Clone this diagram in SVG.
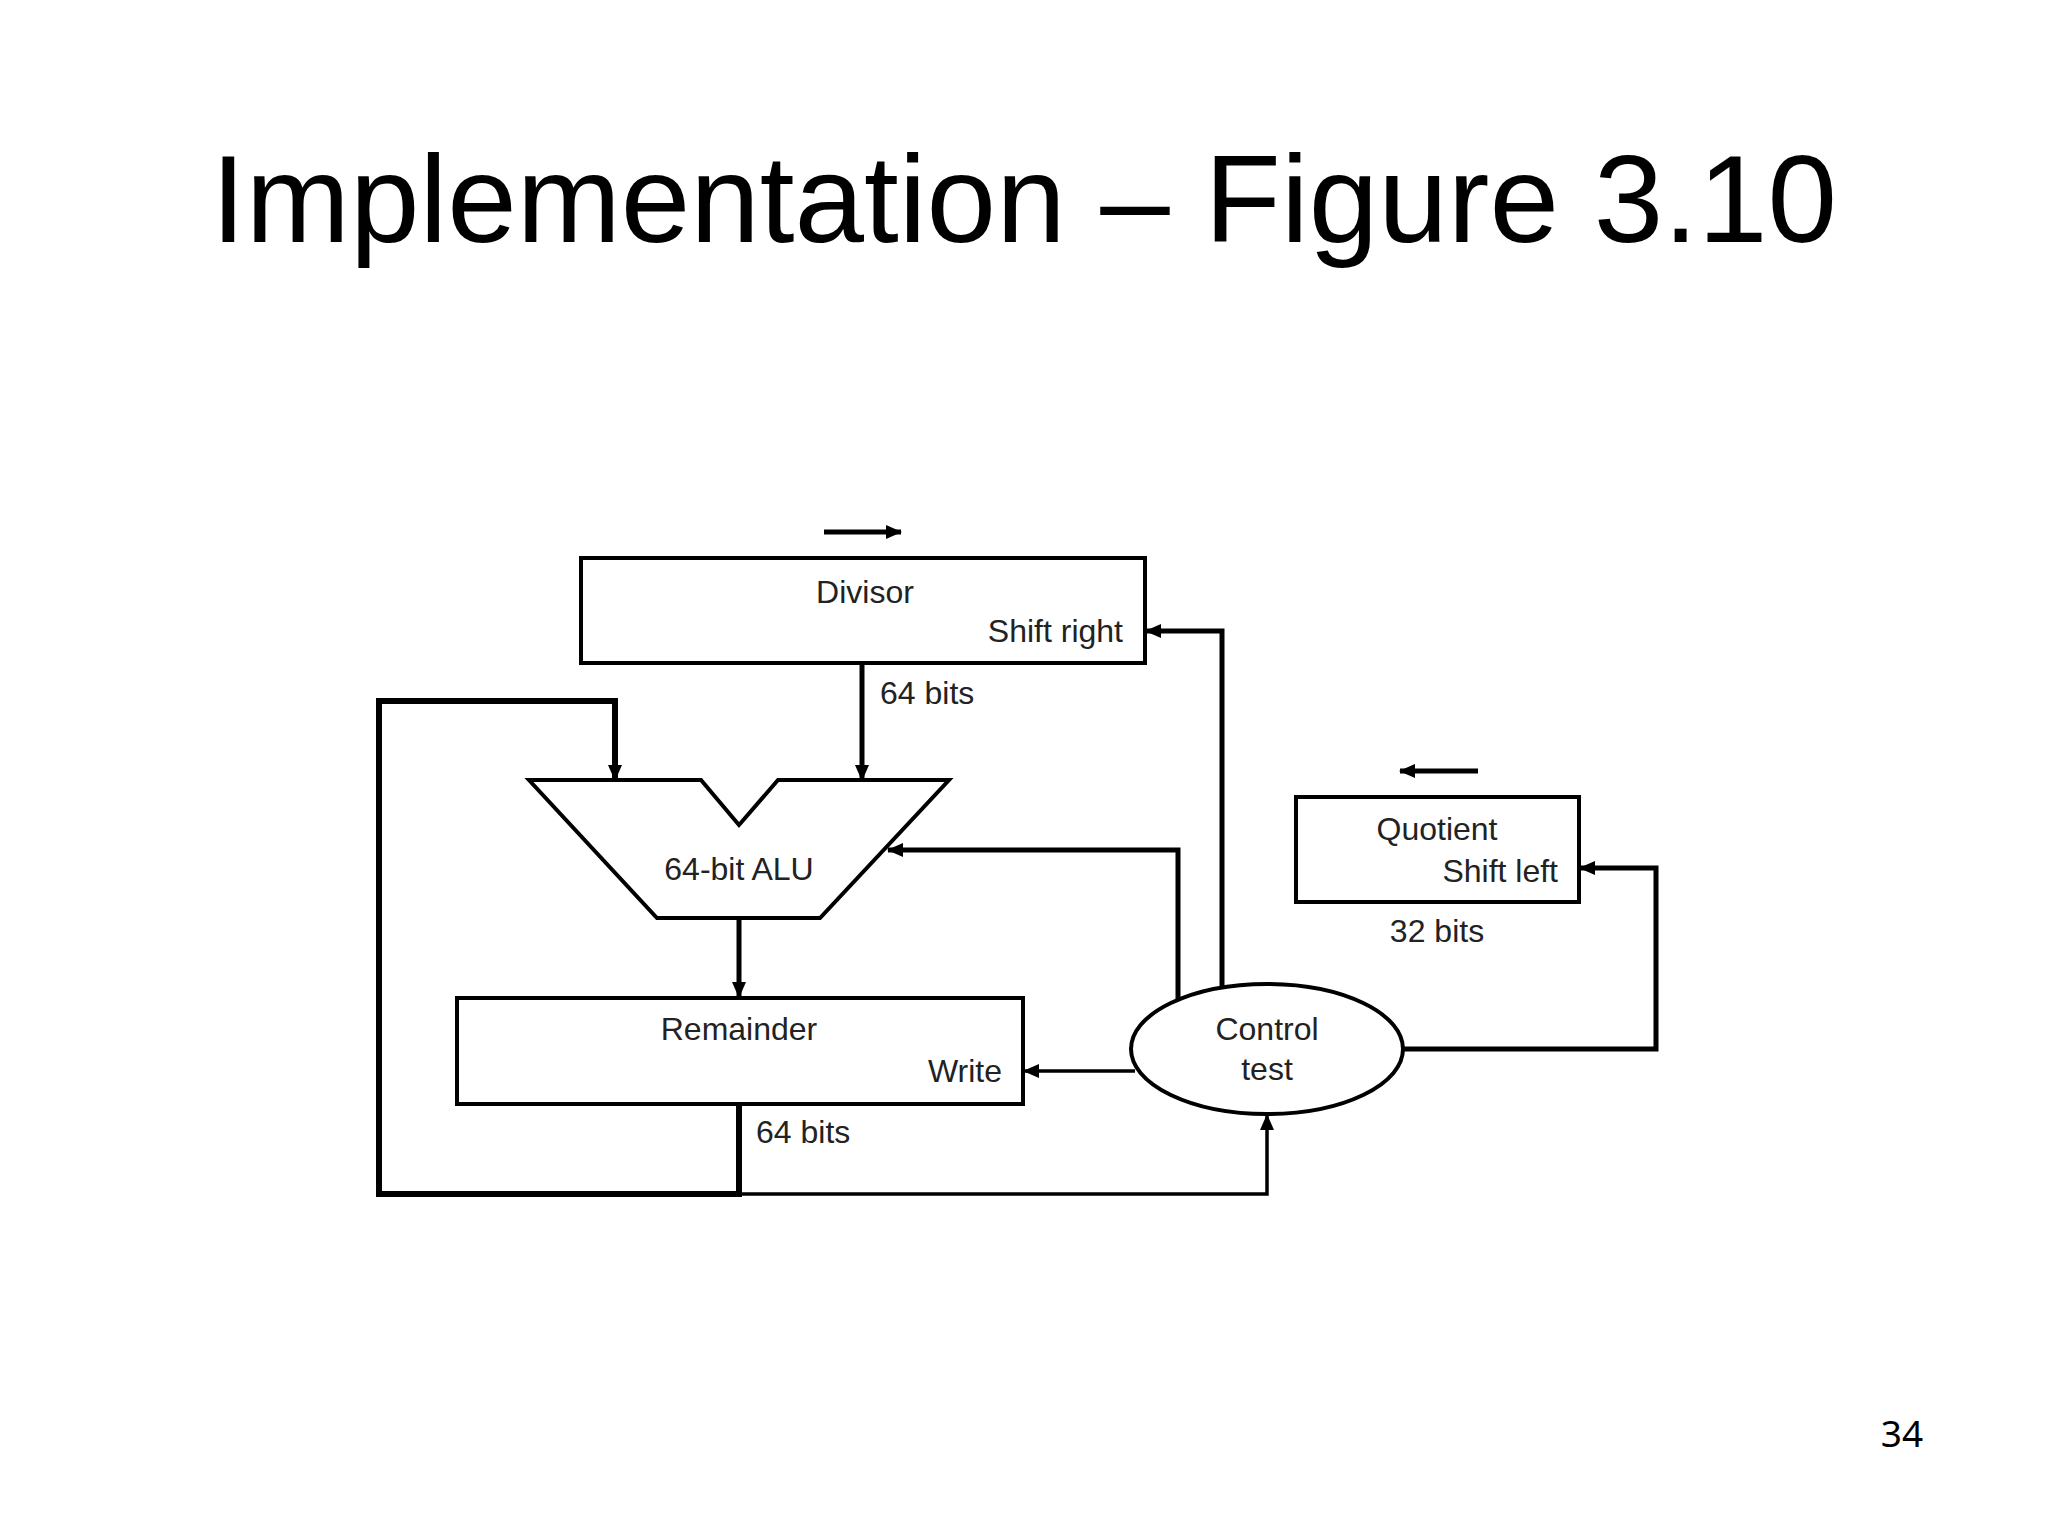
<svg xmlns="http://www.w3.org/2000/svg" width="2048" height="1536" viewBox="0 0 2048 1536">
<defs>
<style>
.box{fill:#fff;stroke:#000;stroke-width:4}
.t{font-family:"Liberation Sans",Arial,sans-serif;font-size:32px;fill:#222}
.w{fill:none;stroke:#000;stroke-width:5}
.thin{fill:none;stroke:#000;stroke-width:3.5}
</style>
<marker id="ah" viewBox="0 0 16 14" refX="15" refY="7" markerWidth="16" markerHeight="14" orient="auto" markerUnits="userSpaceOnUse">
<path d="M0,0 L16,7 L0,14 Z" fill="#000"/>
</marker>
</defs>
<rect width="2048" height="1536" fill="#fff"/>
<text x="1024" y="242" text-anchor="middle" font-family="Liberation Sans,Arial,sans-serif" font-size="125" fill="#000">Implementation – Figure 3.10</text>
<text x="1902" y="1447" text-anchor="middle" font-family="Noto Sans,sans-serif" font-size="37" fill="#000">34</text>
<g id="connectors">
<path class="w" d="M824,532 H901" marker-end="url(#ah)"/>
<path class="w" d="M1478,771 H1400" marker-end="url(#ah)"/>
<path class="w" d="M862,663 V780" marker-end="url(#ah)"/>
<path class="w" d="M739,918 V997" marker-end="url(#ah)"/>
<path fill="none" stroke="#000" stroke-width="6" d="M739,1104 V1194 H379 V701 H615 V780" marker-end="url(#ah)"/>
<path class="thin" d="M739,1194 H1267 V1115" marker-end="url(#ah)"/>
<path class="thin" d="M1135,1071 H1024" marker-end="url(#ah)"/>
<path class="w" d="M1178,1000 V850 H888" marker-end="url(#ah)"/>
<path class="w" d="M1222,987 V631 H1146" marker-end="url(#ah)"/>
<path class="w" d="M1401,1049 H1656 V868 H1580" marker-end="url(#ah)"/>
</g>
<g id="divisor">
<rect class="box" x="581" y="558" width="564" height="105"/>
<text class="t" x="865" y="603" text-anchor="middle">Divisor</text>
<text class="t" x="1123" y="642" text-anchor="end">Shift right</text>
</g>
<text class="t" x="880" y="704">64 bits</text>
<g id="alu">
<path class="box" d="M529,780 H701 L739,825 L778,780 H949 L820,918 H657 Z"/>
<text class="t" x="739" y="880" text-anchor="middle">64-bit ALU</text>
</g>
<g id="remainder">
<rect class="box" x="457" y="998" width="566" height="106"/>
<text class="t" x="739" y="1040" text-anchor="middle">Remainder</text>
<text class="t" x="1002" y="1082" text-anchor="end">Write</text>
</g>
<text class="t" x="756" y="1143">64 bits</text>
<g id="control">
<ellipse class="box" cx="1267" cy="1049" rx="136" ry="65"/>
<text class="t" x="1267" y="1040" text-anchor="middle">Control</text>
<text class="t" x="1267" y="1080" text-anchor="middle">test</text>
</g>
<g id="quotient">
<rect class="box" x="1296" y="797" width="283" height="105"/>
<text class="t" x="1437" y="840" text-anchor="middle">Quotient</text>
<text class="t" x="1558" y="882" text-anchor="end">Shift left</text>
</g>
<text class="t" x="1437" y="942" text-anchor="middle">32 bits</text>
</svg>
